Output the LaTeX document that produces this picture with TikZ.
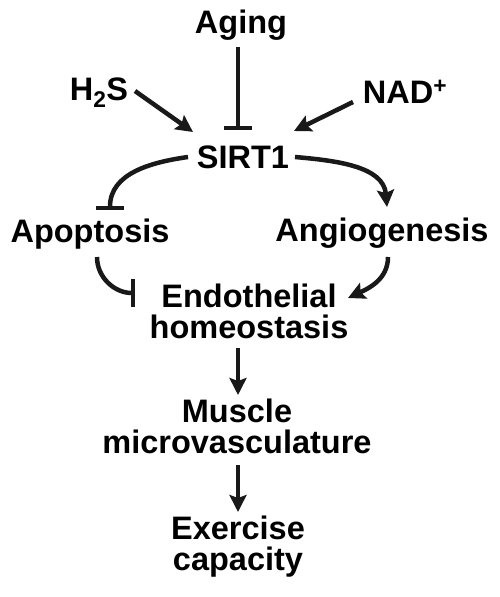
\documentclass[tikz,border=0pt]{standalone}
\usepackage{fontspec}
\setmainfont{Liberation Sans}
\usetikzlibrary{arrows.meta}
\tikzset{
  lbl/.style={font=\bfseries\fontsize{32.5}{31}\selectfont, inner sep=0pt, anchor=base, align=center},
  conn/.style={line width=4.5pt, draw=black!90},
  arr/.style={conn, -{Stealth[length=17pt,width=17pt,inset=3pt]}},
  inh/.style={conn, -{Bar[width=28pt]}}
}
\begin{document}
\begin{tikzpicture}[x=1pt,y=1pt]
\useasboundingbox (0,0) rectangle (499,-597);
\node[lbl] (aging) at (241,-33) {Aging};
\node[lbl] (h2s) at (99,-100) {H\textsubscript{2}S};
\node[lbl] (nad) at (405,-103) {NAD\textsuperscript{+}};
\node[lbl] (sirt) at (243,-168) {SIRT1};
\node[lbl] (apop) at (90,-242) {Apoptosis};
\node[lbl] (angio) at (382,-241) {Angiogenesis};
\node[lbl] (endo) at (249,-338) {Endothelial\\homeostasis};
\node[lbl] (muscle) at (237,-453) {Muscle\\microvasculature};
\node[lbl] (exer) at (238,-570) {Exercise\\capacity};

\draw[inh] ([shift={(-3,-14)}]aging.base) -- ([shift={(-5,38)}]sirt.base);
\draw[arr] ([shift={(36,9)}]h2s.base) -- ([shift={(-50,36)}]sirt.base);
\draw[arr] ([shift={(-52,1)}]nad.base) -- ([shift={(51,37)}]sirt.base);
\draw[inh] ([shift={(-55,11)}]sirt.base) to[out=188,in=90] ([shift={(20,32)}]apop.base);
\draw[arr] ([shift={(52,11)}]sirt.base) to[out=-5,in=95] ([shift={(5,34)}]angio.base);
\draw[inh] ([shift={(7,-15)}]apop.base) to[out=-90,in=180] ([shift={(-114,45)}]endo.base);
\draw[arr] ([shift={(6,-16)}]angio.base) to[out=-90,in=25] ([shift={(99,40)}]endo.base);
\draw[arr] ([shift={(-11,-10)}]endo.base) -- ([shift={(1,58)}]muscle.base);
\draw[arr] ([shift={(1,-12)}]muscle.base) -- ([shift={(0,58)}]exer.base);
\end{tikzpicture}
\end{document}
